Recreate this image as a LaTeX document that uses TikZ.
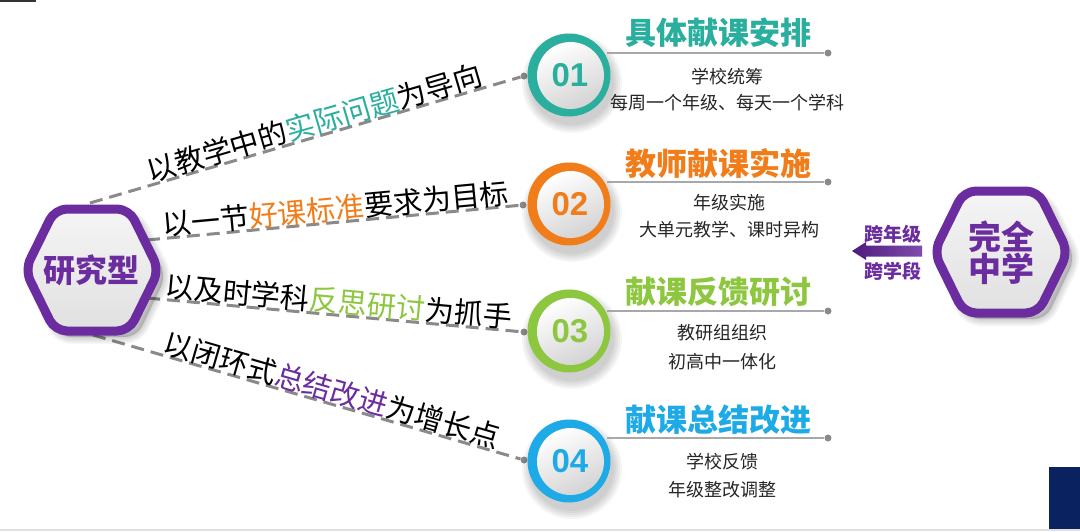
\documentclass[tikz,border=0pt]{standalone}
\usepackage{fontspec}
\setmainfont{Liberation Sans}
\newfontfamily\cjk{Noto Sans CJK SC}
\usetikzlibrary{calc}
\definecolor{cteal}{HTML}{2AAE9E}
\definecolor{corange}{HTML}{F07D19}
\definecolor{cgreen}{HTML}{8DC63F}
\definecolor{cblue}{HTML}{1EAAE6}
\definecolor{cpurple}{HTML}{6A2C9E}
\definecolor{cpurpled}{HTML}{4E1A7E}
\definecolor{cgrey}{HTML}{8A8A8A}
\definecolor{cline}{HTML}{A8A8A8}
\definecolor{cnavy}{HTML}{0B2260}
\newcommand\fs[1]{\fontsize{#1}{#1}\selectfont}
\newcommand\myhex[2]{%
  \begin{scope}[shift={(#1,#2)}]
    \foreach \w in {2,5,8,11,14}{
      \path[draw=black,fill=black,opacity=0.035,line width=\w pt,rounded corners=12pt,line join=round]
        (-62,6) -- (-33,-53) -- (45,-53) -- (74,6) -- (45,67) -- (-33,67) -- cycle;}
    \shade[top color=white!96!black,bottom color=black!12,rounded corners=12pt]
      (-67,0) -- (-37,-61) -- (37,-61) -- (67,0) -- (37,61) -- (-37,61) -- cycle;
    \draw[draw=cpurple,line width=9pt,rounded corners=12pt,line join=round]
      (-67,0) -- (-37,-61) -- (37,-61) -- (67,0) -- (37,61) -- (-37,61) -- cycle;
  \end{scope}}
\newcommand\mycirc[3]{%
  \begin{scope}[shift={(#1,#2)}]
    \foreach \r in {42,44,46,48,50}{\fill[black,opacity=0.04] (3,8) circle (\r);}
    \fill[#3] (0,0) circle (41.5);
    \shade[top color=white,bottom color=black!17,shading angle=25] (1.5,0.5) circle (33.5);
  \end{scope}}
\begin{document}
\begin{tikzpicture}[x=1pt,y=-1pt,
  dashline/.style={draw=cgrey,line width=3pt,dash pattern=on 13pt off 7pt},
  enddot/.style={circle,fill=cgrey,inner sep=0pt,minimum size=7pt},
  tdot/.style={circle,fill=cgrey,inner sep=0pt,minimum size=7pt},
  uline/.style={draw=cline,line width=1.6pt},
  slanttext/.style={sloped,anchor=south,inner sep=2.5pt,text depth=0pt,font=\cjk\fs{29}},
  titletext/.style={font=\cjk\bfseries\fs{31},inner sep=0pt},
  subtext/.style={font=\cjk\fs{18},inner sep=0pt,text=black!85},
  numtext/.style={font=\bfseries\fs{33},inner sep=0pt},
  hextext/.style={font=\cjk\bfseries\fs{32},text=cpurple,inner sep=0pt,align=center}]
\useasboundingbox (0,0) rectangle (1080,531);
\fill[white] (0,0) rectangle (1080,531);
% frame details
\fill[black!80] (0,0) rectangle (36,2);
\fill[black!12] (0,528.5) rectangle (1080,531);
\fill[cnavy] (1049,467) rectangle (1080,529);
% connector anchors
\coordinate (s1) at (90,203);
\coordinate (s2) at (147,240);
\coordinate (s3) at (147,298);
\coordinate (s4) at (93,335);
\node[enddot] (e1) at (524,76) {};
\node[enddot] (e2) at (523,205) {};
\node[enddot] (e3) at (524,332) {};
\node[enddot] (e4) at (524,460) {};
\draw[dashline] (s1) -- (e1);
\draw[dashline] (s2) -- (e2);
\draw[dashline] (s3) -- (e3);
\draw[dashline] (s4) -- (e4);
\path (s1) -- (e1) node[slanttext,pos=0.53] {以教学中的{\color{cteal}实际问题}为导向};
\path (s2) -- (e2) node[slanttext,pos=0.51] {以一节{\color{corange}好课标准}要求为目标};
\path (s3) -- (e3) node[slanttext,pos=0.51] {以及时学科{\color{cgreen}反思研讨}为抓手};
\path (s4) -- (e4) node[slanttext,pos=0.55] {以闭环式{\color{cpurple}总结改进}为增长点};
% left hexagon
\myhex{92}{270}
\node[hextext] (h1) at (91,270) {研究型};
% right hexagon
\myhex{1001}{252}
\node[hextext,font=\cjk\bfseries\fs{33}] (h2) at (1001,253) {完全\\[-1pt]中学};
% arrow
\shade[left color=cpurpled,right color=cpurple!85]
  (852,251) -- (866,242) -- (866,245.5) -- (922,245.5) -- (922,256.5) -- (866,256.5) -- (866,260) -- cycle;
\node[font=\cjk\bfseries\fs{19},text=cpurple,inner sep=0pt] (k1) at (893,234) {跨年级};
\node[font=\cjk\bfseries\fs{19},text=cpurple,inner sep=0pt] (k2) at (893,271) {跨学段};
% circles
\mycirc{569}{75}{cteal}
\mycirc{569}{204}{corange}
\mycirc{569}{331}{cgreen}
\mycirc{569}{461}{cblue}
\node[numtext,text=cteal] (c1) at (570,75) {01};
\node[numtext,text=corange] (c2) at (570,204) {02};
\node[numtext,text=cgreen] (c3) at (570,331) {03};
\node[numtext,text=cblue] (c4) at (570,461) {04};
% titles
\node[titletext,text=cteal] (t1) at (718,33) {具体献课安排};
\node[titletext,text=corange] (t2) at (718,164) {教师献课实施};
\node[titletext,text=cgreen] (t3) at (718,292) {献课反馈研讨};
\node[titletext,text=cblue] (t4) at (718,420) {献课总结改进};
\coordinate (u1) at (607,53);
\coordinate (u2) at (607,182);
\coordinate (u3) at (607,311);
\coordinate (u4) at (607,438);
\node[tdot] (d1) at (828,53) {};
\node[tdot] (d2) at (828,182) {};
\node[tdot] (d3) at (828,311) {};
\node[tdot] (d4) at (828,438) {};
\draw[uline] (u1) -- (d1);
\draw[uline] (u2) -- (d2);
\draw[uline] (u3) -- (d3);
\draw[uline] (u4) -- (d4);
% sub texts
\node[subtext] (a1) at (727,77) {学校统筹};
\node[subtext] (b1) at (727,103) {每周一个年级、每天一个学科};
\node[subtext] (a2) at (729,203) {年级实施};
\node[subtext] (b2) at (729,230) {大单元教学、课时异构};
\node[subtext] (a3) at (722,333) {教研组组织};
\node[subtext] (b3) at (722,362) {初高中一体化};
\node[subtext] (a4) at (722,462) {学校反馈};
\node[subtext] (b4) at (722,490) {年级整改调整};
\end{tikzpicture}
\end{document}
